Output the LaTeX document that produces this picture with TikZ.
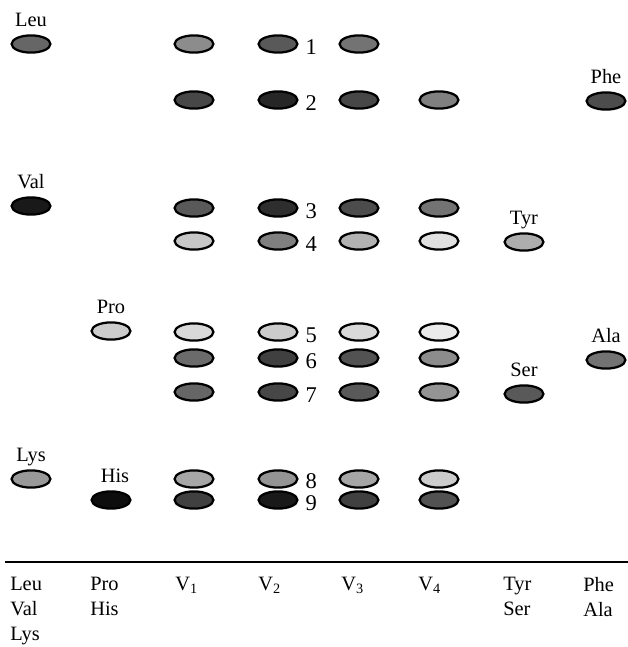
\documentclass[tikz,border=0pt]{standalone}
\usepackage{fontspec}
\setmainfont{Liberation Serif}
\usepackage{tikz}
\usetikzlibrary{shapes.geometric, positioning}

\tikzset{
    spot/.style = {ellipse, draw, line width = 1.6pt, inner sep = 0pt,
                   minimum width = 0.97cm, minimum height = 0.43cm},
    acid/.style = {inner sep = 0pt, text depth = 0pt, font = \fontsize{14.5}{17}\selectfont},
    spotno/.style = {inner sep = 0pt, font = \fontsize{16}{18}\selectfont, yshift = -0.08cm},
    lane/.style = {inner sep = 0pt, align = left, anchor = north west, font = \fontsize{14.5}{17.6}\selectfont}
}

\begin{document}
\begin{tikzpicture}[x = 0.025cm, y = -0.025cm]
                \useasboundingbox (0, 0) rectangle (628, 647);

                \path
                (31, 44) node[spot, fill = black!60](leu){}
                (31, 206) node[spot, fill = black!90](val){}
                (31, 479) node[spot, fill = black!40](lys){}
                (111, 331) node[spot, fill = black!20](pro){}
                (111, 500) node[spot, fill = black!95](his){}
                (524, 242) node[spot, fill = black!32](tyr){}
                (524, 394) node[spot, fill = black!65](ser){}
                (606, 101) node[spot, fill = black!70](phe){}
                (606, 360) node[spot, fill = black!55](ala){}

                (leu) ++ (0, 0) node[acid, above = 0.18cm of leu](leuname){Leu}
                (val) ++ (0, 0) node[acid, above = 0.18cm of val](valname){Val}
                (lys) ++ (0, 0) node[acid, above = 0.18cm of lys](lysname){Lys}
                (pro) ++ (0, 0) node[acid, above = 0.18cm of pro](proname){Pro}
                (his) ++ (0, 0) node[acid, above = 0.18cm of his, xshift = 0.1cm](hisname){His}
                (tyr) ++ (0, 0) node[acid, above = 0.18cm of tyr](tyrname){Tyr}
                (ser) ++ (0, 0) node[acid, above = 0.18cm of ser](sername){Ser}
                (phe) ++ (0, 0) node[acid, above = 0.18cm of phe](phename){Phe}
                (ala) ++ (0, 0) node[acid, above = 0.18cm of ala](alaname){Ala}

                (194, 44) node[spot, fill = black!45](vIr1){}
                (278, 44) node[spot, fill = black!65](vIIr1){}
                (359, 44) node[spot, fill = black!55](vIIIr1){}

                (194, 100) node[spot, fill = black!72](vIr2){}
                (278, 100) node[spot, fill = black!85](vIIr2){}
                (359, 100) node[spot, fill = black!72](vIIIr2){}
                (439, 100) node[spot, fill = black!50](vIVr2){}

                (194, 208) node[spot, fill = black!65](vIr3){}
                (278, 208) node[spot, fill = black!82](vIIr3){}
                (359, 208) node[spot, fill = black!70](vIIIr3){}
                (439, 208) node[spot, fill = black!55](vIVr3){}

                (194, 241) node[spot, fill = black!22](vIr4){}
                (278, 241) node[spot, fill = black!50](vIIr4){}
                (359, 241) node[spot, fill = black!30](vIIIr4){}
                (439, 241) node[spot, fill = black!12](vIVr4){}

                (194, 332) node[spot, fill = black!15](vIr5){}
                (278, 332) node[spot, fill = black!20](vIIr5){}
                (359, 332) node[spot, fill = black!15](vIIIr5){}
                (439, 332) node[spot, fill = black!8](vIVr5){}

                (194, 358) node[spot, fill = black!58](vIr6){}
                (278, 358) node[spot, fill = black!75](vIIr6){}
                (359, 358) node[spot, fill = black!68](vIIIr6){}
                (439, 358) node[spot, fill = black!45](vIVr6){}

                (194, 392) node[spot, fill = black!60](vIr7){}
                (278, 392) node[spot, fill = black!72](vIIr7){}
                (359, 392) node[spot, fill = black!65](vIIIr7){}
                (439, 392) node[spot, fill = black!42](vIVr7){}

                (194, 479) node[spot, fill = black!35](vIr8){}
                (278, 479) node[spot, fill = black!42](vIIr8){}
                (359, 479) node[spot, fill = black!35](vIIIr8){}
                (439, 479) node[spot, fill = black!20](vIVr8){}

                (194, 500) node[spot, fill = black!75](vIr9){}
                (278, 500) node[spot, fill = black!90](vIIr9){}
                (359, 500) node[spot, fill = black!75](vIIIr9){}
                (439, 500) node[spot, fill = black!68](vIVr9){}

                % spot numbers next to V2
                (vIIr1) node[spotno, right = 0.17cm of vIIr1](no1){1}
                (vIIr2) node[spotno, right = 0.17cm of vIIr2](no2){2}
                (vIIr3) node[spotno, right = 0.17cm of vIIr3](no3){3}
                (vIIr4) node[spotno, right = 0.17cm of vIIr4](no4){4}
                (vIIr5) node[spotno, right = 0.17cm of vIIr5](no5){5}
                (vIIr6) node[spotno, right = 0.17cm of vIIr6](no6){6}
                (vIIr7) node[spotno, right = 0.17cm of vIIr7](no7){7}
                (vIIr8) node[spotno, right = 0.17cm of vIIr8, yshift = 0.03cm](no8){8}
                (vIIr9) node[spotno, right = 0.17cm of vIIr9](no9){9}

                (10, 577) node[lane](laneA){Leu\\Val\\Lys}
                (90, 577) node[lane](laneB){Pro\\His}
                (175, 577) node[lane](laneV1){V\textsubscript{1}}
                (258, 577) node[lane](laneV2){V\textsubscript{2}}
                (341, 577) node[lane](laneV3){V\textsubscript{3}}
                (418, 577) node[lane](laneV4){V\textsubscript{4}}
                (503, 577) node[lane](laneC){Tyr\\Ser}
                (583, 577) node[lane](laneD){Phe\\Ala}
                ;

                \coordinate (ruleL) at (5, 562);
                \coordinate (ruleR) at (628, 562);
                \draw[line width = 0.9pt] (ruleL) -- (ruleR);
\end{tikzpicture}
\end{document}
